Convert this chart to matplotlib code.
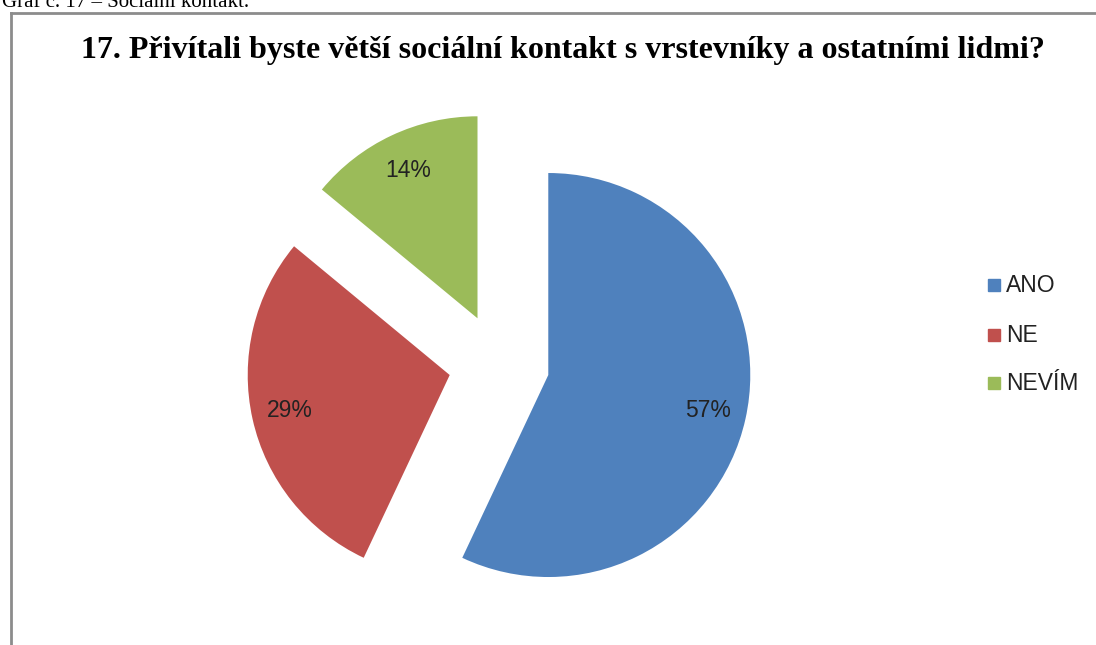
import matplotlib.pyplot as plt
from matplotlib.lines import Line2D

W, H = 1096, 645

categories = ['ANO', 'NE', 'NEVÍM']
values = [57, 29, 14]
colors = ['#4F81BD', '#C0504D', '#9BBB59']
title = '17. Přivítali byste větší sociální kontakt s vrstevníky a ostatními lidmi?'
caption = 'Graf č. 17 – Sociální kontakt.'

fig = plt.figure(figsize=(W / 100, H / 100), dpi=100)

# pie axes spans whole figure, 1 data unit = pie radius in pixels
R = 202.0
cx, cy = 499.0, 364.0  # pixel centre (y from top)
ax = fig.add_axes([0, 0, 1, 1])
wedges, texts, autotexts = ax.pie(
    values, colors=colors, startangle=90, counterclock=False,
    explode=[0.25, 0.25, 0.25], autopct='%1.0f%%', pctdistance=0.81,
    textprops=dict(family='Liberation Sans', fontsize=16.5, color='#222222'))
ax.set_xlim(-cx / R, (W - cx) / R)
ax.set_ylim(-(H - cy) / R, cy / R)
ax.set_aspect('auto')
ax.axis('off')

# frame of the chart box
fig.add_artist(Line2D([10.5 / W, 10.5 / W], [0, 1 - 12.5 / H],
                      transform=fig.transFigure, color='#8c8c8c', lw=2))
fig.add_artist(Line2D([10.5 / W, 1], [1 - 12.5 / H, 1 - 12.5 / H],
                      transform=fig.transFigure, color='#8c8c8c', lw=2))

fig.text(2 / W, 1 - 7 / H, caption, family='Liberation Serif', fontsize=15,
         va='baseline', ha='left')
fig.text(563 / W, 1 - 58 / H, title, family='Liberation Serif', fontweight='bold',
         fontsize=23, va='baseline', ha='center')

# legend
leg_y = [285, 335, 383]
for lab, col, y in zip(categories, colors, leg_y):
    fig.patches.append(plt.Rectangle((988 / W, 1 - (y + 6) / H), 12 / W, 12 / H,
                                     transform=fig.transFigure, color=col))
    fig.text(1006 / W, 1 - y / H, lab, family='Liberation Sans', fontsize=16.5,
             va='center', ha='left', color='#222222')

fig.savefig('out.png', dpi=100)
